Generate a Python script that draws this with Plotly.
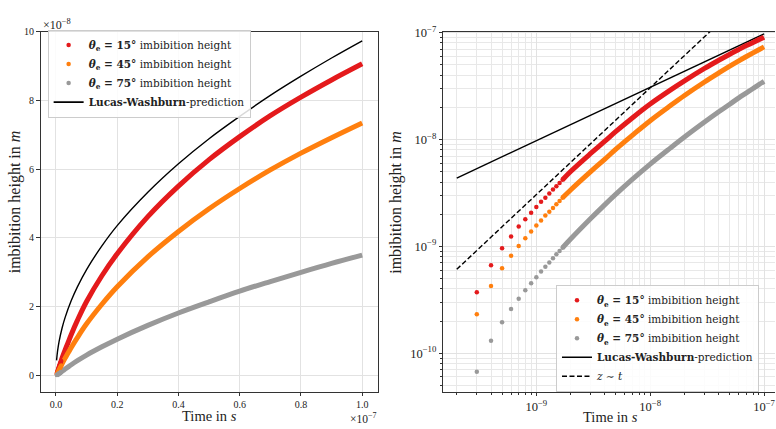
import plotly.graph_objects as go

# ---------------- data ----------------
# discrete early samples, time in s
t_early = [3e-10, 4e-10, 5e-10, 6e-10, 7e-10, 8e-10, 9e-10, 1.0e-9, 1.1e-9,
           1.2e-9, 1.3e-9, 1.4e-9, 1.5e-9, 1.6e-9, 1.7e-9]
z15_early = [3.73e-10, 6.64e-10, 9.59e-10, 1.24e-9, 1.53e-9, 1.79e-9, 2.06e-9, 2.33e-9,
             2.61e-9, 2.85e-9, 3.13e-9, 3.40e-9, 3.65e-9, 3.92e-9, 4.20e-9]
z45_early = [2.31e-10, 4.26e-10, 6.23e-10, 8.15e-10, 1.006e-9, 1.19e-9, 1.38e-9, 1.57e-9,
             1.75e-9, 1.94e-9, 2.11e-9, 2.29e-9, 2.48e-9, 2.66e-9, 2.85e-9]
z75_early = [6.7e-11, 1.31e-10, 1.95e-10, 2.60e-10, 3.24e-10, 3.89e-10, 4.51e-10, 5.15e-10,
             5.81e-10, 6.45e-10, 7.08e-10, 7.76e-10, 8.45e-10, 9.06e-10, 9.71e-10]

# later samples (curves appear continuous there)
t_dense = [1.7e-9, 2e-9, 3e-9, 4e-9, 5e-9, 7e-9, 1e-8, 1.5e-8, 2e-8, 3e-8, 4e-8,
           5e-8, 6e-8, 7e-8, 8e-8, 9e-8, 1e-7]
z15_dense = [4.2e-9, 5.02e-9, 7.4e-9, 9.64e-9, 1.19e-8, 1.60e-8, 2.15e-8, 2.90e-8, 3.54e-8,
             4.62e-8, 5.51e-8, 6.28e-8, 6.95e-8, 7.56e-8, 8.10e-8, 8.60e-8, 9.07e-8]
z45_dense = [2.85e-9, 3.37e-9, 5.0e-9, 6.55e-9, 8.13e-9, 1.10e-8, 1.5e-8, 2.07e-8, 2.58e-8,
             3.45e-8, 4.19e-8, 4.85e-8, 5.44e-8, 5.98e-8, 6.47e-8, 6.92e-8, 7.35e-8]
z75_dense = [9.71e-10, 1.17e-9, 1.82e-9, 2.46e-9, 3.08e-9, 4.25e-9, 5.88e-9, 8.3e-9, 1.054e-8,
             1.455e-8, 1.815e-8, 2.14e-8, 2.45e-8, 2.73e-8, 3.0e-8, 3.26e-8, 3.5e-8]

# Lucas-Washburn prediction
t_lw = [2e-10, 5e-10, 1e-9, 2e-9, 3e-9, 5e-9, 7e-9, 1e-8, 1.5e-8, 2e-8, 3e-8, 4e-8,
        5e-8, 6e-8, 7e-8, 8e-8, 9e-8, 1e-7]
z_lw = [4.36e-9, 6.89e-9, 9.74e-9, 1.377e-8, 1.687e-8, 2.178e-8, 2.577e-8, 3.08e-8, 3.77e-8,
        4.36e-8, 5.33e-8, 6.16e-8, 6.89e-8, 7.54e-8, 8.15e-8, 8.71e-8, 9.24e-8, 9.74e-8]

# z ~ t guide line
t_lin = [2e-10, 1e-7]
z_lin = [6.1e-10, 3.05e-7]

labels = ["<b><i>θ</i><sub>e</sub> = 15°</b> imbibition height",
          "<b><i>θ</i><sub>e</sub> = 45°</b> imbibition height",
          "<b><i>θ</i><sub>e</sub> = 75°</b> imbibition height"]
lw_label = "<b>Lucas-Washburn</b>-prediction"
lin_label = "<i>z</i> ∼ <i>t</i>"
colors = ["#e41a1c", "#ff7f0e", "#999999"]

x_ticks_lin = [0, 0.2e-7, 0.4e-7, 0.6e-7, 0.8e-7, 1.0e-7]
x_ticktext_lin = ["0.0", "0.2", "0.4", "0.6", "0.8", "1.0"]
y_ticks_lin = [0, 2e-8, 4e-8, 6e-8, 8e-8, 10e-8]
y_ticktext_lin = ["0", "2", "4", "6", "8", "10"]
x_ticks_log = [1e-9, 1e-8, 1e-7]
x_ticktext_log = ["10<sup>−9</sup>", "10<sup>−8</sup>", "10<sup>−7</sup>"]
y_ticks_log = [1e-10, 1e-9, 1e-8, 1e-7]
y_ticktext_log = ["10<sup>−10</sup>", "10<sup>−9</sup>", "10<sup>−8</sup>", "10<sup>−7</sup>"]

# ---------------- figure ----------------
W, H = 776, 429
FONT = "Liberation Serif"
LFONT = "DejaVu Serif"
fig = go.Figure()

early = [z15_early, z45_early, z75_early]
dense = [z15_dense, z45_dense, z75_dense]

# left (linear) panel
for i in range(3):
    fig.add_trace(go.Scatter(x=t_early + t_dense[1:], y=early[i] + dense[i][1:],
                             mode="lines", line=dict(color=colors[i], width=5, shape="spline"),
                             showlegend=False, xaxis="x", yaxis="y", hoverinfo="skip"))
fig.add_trace(go.Scatter(x=t_lw, y=z_lw, mode="lines", line=dict(color="black", width=1.4, shape="spline"),
                         showlegend=False, xaxis="x", yaxis="y"))
for i in range(3):
    fig.add_trace(go.Scatter(x=t_early, y=early[i], mode="markers",
                             marker=dict(color=colors[i], size=4.5), name=labels[i],
                             legend="legend", legendrank=i + 1, xaxis="x", yaxis="y"))
fig.add_trace(go.Scatter(x=[None], y=[None], mode="lines", line=dict(color="black", width=1.6),
                         name=lw_label, legend="legend", legendrank=4, xaxis="x", yaxis="y"))

# right (log-log) panel
fig.add_trace(go.Scatter(x=t_lw, y=z_lw, mode="lines", line=dict(color="black", width=1.4),
                         name=lw_label, legend="legend2", legendrank=4, xaxis="x2", yaxis="y2"))
fig.add_trace(go.Scatter(x=t_lin, y=z_lin, mode="lines",
                         line=dict(color="black", width=1.4, dash="5px,2.5px"),
                         name=lin_label, legend="legend2", legendrank=5, xaxis="x2", yaxis="y2"))
for i in range(3):
    fig.add_trace(go.Scatter(x=t_dense, y=dense[i], mode="lines",
                             line=dict(color=colors[i], width=5, shape="spline"),
                             showlegend=False, xaxis="x2", yaxis="y2", hoverinfo="skip"))
    fig.add_trace(go.Scatter(x=t_early, y=early[i], mode="markers",
                             marker=dict(color=colors[i], size=4.5), name=labels[i],
                             legend="legend2", legendrank=i + 1, xaxis="x2", yaxis="y2"))

minor_log = [k * 10.0 ** e for e in range(-11, -6) for k in range(2, 10)]

grid = "#e2e2e2"
axis_common = dict(showline=True, linecolor="#333333", linewidth=1.2, ticks="outside",
                   ticklen=3.5, tickcolor="#333333", showgrid=True, gridcolor=grid,
                   gridwidth=1, zeroline=False, tickfont=dict(family=FONT, size=10, color="#222"))
log_tickfont = dict(family=FONT, size=12.5, color="#222")
minor_cfg = dict(tickvals=minor_log, ticks="outside", ticklen=2, tickcolor="#333333",
                 showgrid=True, gridcolor="#e8e8e8", gridwidth=0.8)
legend_common = dict(xanchor="left", yanchor="top", bgcolor="rgba(255,255,255,0.85)",
                     bordercolor="#cccccc", borderwidth=1,
                     font=dict(family=LFONT, size=10.5, color="#222"), tracegroupgap=0)

yd = [1 - 391 / H, 1 - 24 / H]
fig.update_layout(
    width=W, height=H, margin=dict(l=0, r=0, t=0, b=0),
    paper_bgcolor="white", plot_bgcolor="white",
    font=dict(family=FONT, color="#222"),
    xaxis=dict(domain=[40.7 / W, 378 / W], range=[-0.05e-7, 1.05e-7], anchor="y",
               tickvals=x_ticks_lin, ticktext=x_ticktext_lin, mirror=True, **axis_common),
    yaxis=dict(domain=yd, range=[-0.477e-8, 10.01e-8], anchor="x",
               tickvals=y_ticks_lin, ticktext=y_ticktext_lin, mirror=True, **axis_common),
    xaxis2=dict(type="log", domain=[444 / W, 1.0], range=[-9.816, -6.904], anchor="y2",
                tickvals=x_ticks_log, ticktext=x_ticktext_log, mirror=True, minor=minor_cfg,
                ticklabeloverflow="allow",
                **{**axis_common, "tickfont": log_tickfont}),
    yaxis2=dict(type="log", domain=yd, range=[-10.36, -6.99], anchor="x2",
                tickvals=y_ticks_log, ticktext=y_ticktext_log, mirror=False, minor=minor_cfg,
                **{**axis_common, "tickfont": log_tickfont}),
    legend=dict(x=47.7 / W, y=1 - 22 / H, **legend_common),
    legend2=dict(x=556.7 / W, y=1 - 282 / H, **legend_common),
    annotations=[
        dict(text="×10<sup>−8</sup>", x=41 / W, y=1 - 17 / H, xref="paper", yref="paper",
             xanchor="left", yanchor="middle", showarrow=False, font=dict(size=12)),
        dict(text="×10<sup>−7</sup>", x=379 / W, y=1 - 418 / H, xref="paper", yref="paper",
             xanchor="right", yanchor="middle", showarrow=False, font=dict(size=11.5)),
        dict(text="Time in <i>s</i>", x=209.4 / W, y=1 - 416 / H, xref="paper", yref="paper",
             xanchor="center", yanchor="middle", showarrow=False, font=dict(size=14.5)),
        dict(text="Time in <i>s</i>", x=611 / W, y=1 - 417 / H, xref="paper", yref="paper",
             xanchor="center", yanchor="middle", showarrow=False, font=dict(size=14.5)),
        dict(text="imbibition height in <i>m</i>", x=15 / W, y=1 - 197 / H, xref="paper",
             yref="paper", xanchor="center", yanchor="middle", textangle=-90,
             showarrow=False, font=dict(size=16)),
        dict(text="imbibition height in <i>m</i>", x=397 / W, y=1 - 198 / H, xref="paper",
             yref="paper", xanchor="center", yanchor="middle", textangle=-90,
             showarrow=False, font=dict(size=16)),
    ],
)

fig.write_html("out.html")
